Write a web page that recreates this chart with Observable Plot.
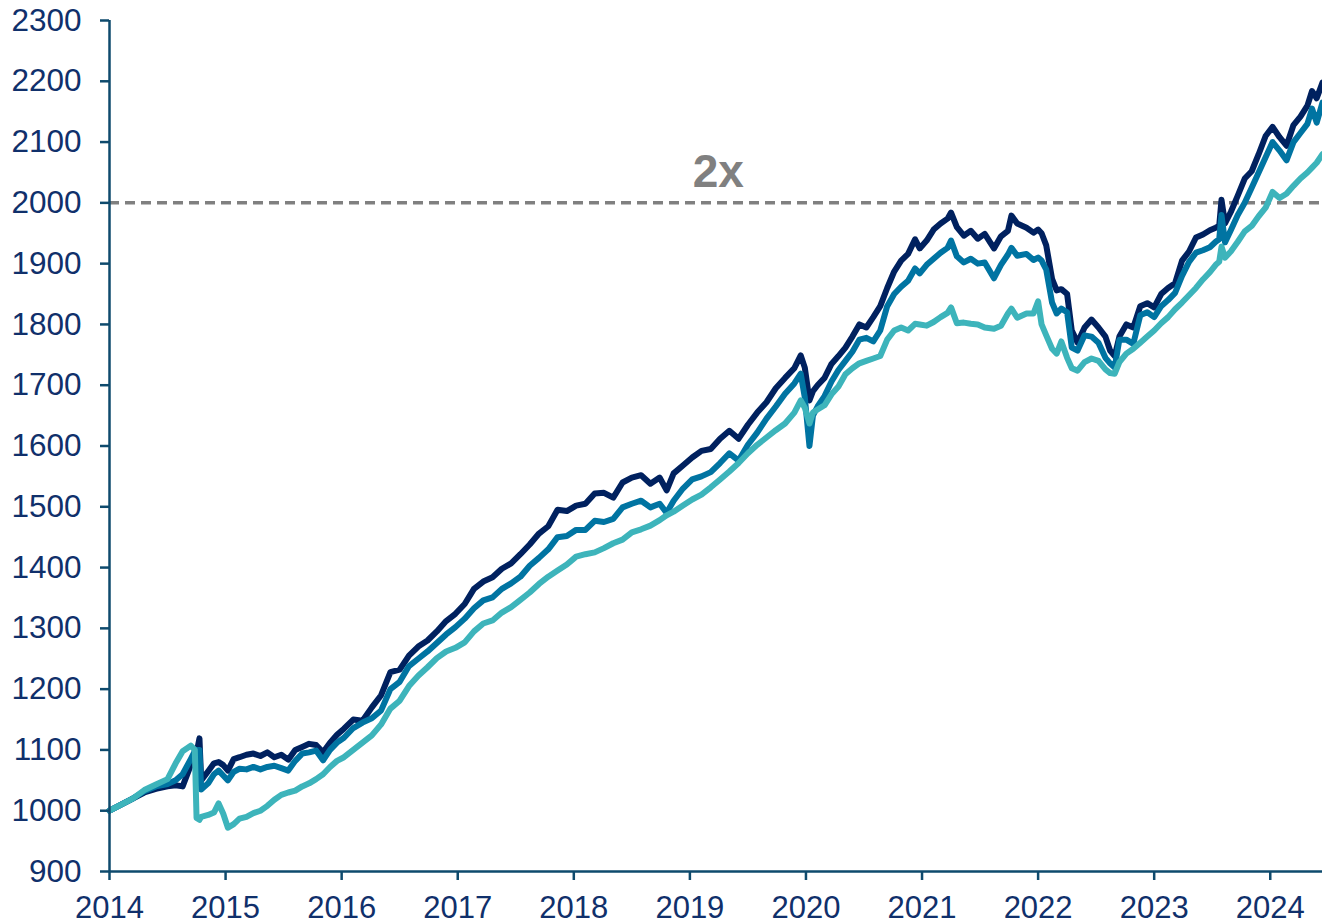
<!DOCTYPE html>
<html><head><meta charset="utf-8">
<script src="https://cdn.jsdelivr.net/npm/d3@7"></script>
<script src="https://cdn.jsdelivr.net/npm/@observablehq/plot@0.6"></script>
<style>html,body{margin:0;padding:0;background:#fff;} svg{display:block}</style>
</head><body><div id="chart"></div>
<script>
const dates = [
  2014.00,2014.10,2014.20,2014.30,2014.40,2014.50,2014.57,2014.63,2014.70,2014.735,
  2014.75,2014.775,2014.79,2014.85,2014.90,2014.94,2014.98,2015.02,2015.07,2015.12,
  2015.18,2015.24,2015.30,2015.36,2015.42,2015.48,2015.54,2015.60,2015.66,2015.72,
  2015.78,2015.84,2015.90,2015.96,2016.02,
  2016.10,2016.18,2016.26,2016.34,2016.42,2016.50,2016.58,2016.66,2016.74,2016.82,
  2016.90,2016.98,2017.06,2017.14,2017.22,2017.30,2017.38,2017.46,2017.54,2017.62,
  2017.70,2017.78,2017.86,2017.94,2018.02,
  2018.10,2018.18,2018.26,2018.34,2018.42,2018.50,2018.58,2018.66,2018.74,2018.80,
  2018.86,2018.94,2019.02,2019.10,2019.18,2019.26,2019.34,2019.42,2019.50,2019.58,
  2019.66,2019.74,2019.82,2019.90,2019.955,2019.99,2020.03,2020.06,
  2020.10,2020.16,2020.22,2020.28,2020.34,2020.40,2020.46,2020.52,2020.58,2020.64,
  2020.70,2020.76,2020.82,2020.88,2020.94,2020.98,2021.04,2021.10,2021.16,2021.22,
  2021.25,2021.30,2021.36,2021.42,2021.48,2021.54,2021.62,2021.68,2021.74,2021.77,
  2021.82,2021.90,2021.96,2022.00,
  2022.03,2022.07,2022.12,2022.16,2022.20,2022.25,2022.29,2022.34,2022.40,2022.46,
  2022.52,2022.58,2022.62,2022.66,2022.70,2022.76,2022.82,2022.88,2022.94,2023.00,
  2023.06,2023.12,2023.18,2023.24,2023.30,2023.36,2023.42,2023.48,2023.53,2023.56,
  2023.58,2023.61,2023.66,2023.72,2023.78,2023.84,2023.90,2023.96,2024.02,2024.08,
  2024.14,2024.20,2024.26,2024.32,2024.36,2024.40,2024.45
];
const navy = [
  1000,1010,1020,1030,1036,1040,1042,1040,1075,1090,
  1095,1119,1050,1065,1078,1080,1075,1066,1085,1088,
  1092,1094,1090,1096,1088,1092,1084,1100,1105,1110,
  1108,1096,1112,1125,1135,
  1150,1148,1170,1190,1228,1232,1255,1270,1280,1295,
  1312,1324,1340,1365,1377,1384,1398,1407,1422,1438,
  1456,1468,1495,1493,1502,
  1505,1522,1523,1515,1540,1548,1552,1538,1548,1527,
  1555,1568,1581,1592,1595,1612,1625,1612,1635,1655,
  1672,1695,1712,1728,1749,1729,1675,1690,
  1700,1712,1735,1748,1762,1780,1800,1795,1812,1830,
  1860,1887,1905,1916,1940,1925,1938,1956,1966,1974,
  1984,1960,1946,1954,1941,1949,1925,1945,1954,1979,
  1966,1959,1951,1956,
  1950,1930,1875,1856,1858,1850,1790,1770,1795,1808,
  1795,1780,1757,1748,1780,1800,1795,1830,1835,1828,
  1850,1860,1868,1905,1920,1943,1948,1955,1959,1962,
  2005,1966,1985,2012,2040,2052,2080,2110,2125,2108,
  2094,2128,2142,2160,2184,2172,2198
];
const medium = [
  1000,1010,1020,1032,1040,1044,1050,1060,1085,1098,
  1100,1100,1035,1045,1060,1066,1058,1050,1064,1069,
  1068,1072,1068,1072,1074,1070,1066,1082,1094,1096,
  1099,1083,1100,1112,1120,
  1136,1145,1152,1165,1200,1212,1238,1250,1262,1276,
  1290,1302,1316,1333,1346,1351,1365,1374,1385,1403,
  1416,1430,1450,1452,1462,
  1462,1477,1475,1480,1499,1505,1510,1499,1505,1490,
  1510,1530,1545,1550,1557,1572,1588,1576,1602,1622,
  1645,1665,1686,1703,1719,1680,1600,1650,
  1665,1682,1706,1725,1740,1755,1775,1778,1772,1790,
  1830,1850,1862,1872,1892,1884,1898,1908,1918,1926,
  1938,1912,1902,1908,1900,1902,1876,1898,1915,1926,
  1913,1916,1906,1910,
  1905,1890,1836,1818,1826,1820,1762,1757,1782,1780,
  1770,1745,1736,1729,1775,1775,1768,1815,1820,1812,
  1830,1840,1852,1880,1903,1918,1922,1927,1936,1940,
  1980,1935,1955,1980,2000,2025,2050,2075,2100,2086,
  2070,2100,2115,2130,2155,2132,2165
];
const teal = [
  1000,1010,1020,1034,1043,1052,1078,1098,1107,1100,
  988,985,990,993,997,1012,995,972,978,987,
  990,996,1000,1008,1018,1026,1030,1033,1040,1045,
  1052,1060,1072,1082,1088,
  1100,1112,1124,1142,1168,1181,1205,1222,1236,1251,
  1262,1268,1277,1295,1308,1313,1326,1335,1347,1359,
  1373,1385,1395,1405,1418,
  1422,1425,1432,1440,1446,1458,1463,1469,1478,1486,
  1492,1502,1512,1520,1532,1545,1558,1572,1588,1602,
  1614,1626,1637,1655,1675,1663,1637,1655,
  1660,1667,1685,1698,1718,1728,1736,1740,1744,1748,
  1775,1790,1795,1790,1801,1800,1798,1804,1812,1819,
  1828,1802,1803,1801,1800,1795,1793,1798,1818,1826,
  1811,1818,1818,1838,
  1800,1782,1760,1752,1772,1745,1728,1724,1738,1744,
  1740,1726,1720,1719,1738,1752,1760,1770,1780,1790,
  1802,1812,1825,1836,1848,1860,1874,1886,1898,1903,
  1928,1910,1920,1936,1953,1962,1978,1992,2018,2008,
  2015,2028,2040,2050,2058,2066,2080
];
const yTicks = [900,1000,1100,1200,1300,1400,1500,1600,1700,1800,1900,2000,2100,2200,2300];
const xTicks = [2014,2015,2016,2017,2018,2019,2020,2021,2022,2023,2024];
const seriesNames = ["navy","medium","teal"];
const seriesColors = ["#00215f","#0074a2","#3db4bb"];
const refLevel = [2000];
const annotation = [{t: 2019.245, v: 2051, label: "2x"}];

const rows = [];
[navy, medium, teal].forEach((vals, i) => vals.forEach((v, j) => rows.push({series: seriesNames[i], t: dates[j], v})));

const axisColor = "#0e4a6d";
const labelColor = "#10306b";

const chart = Plot.plot({
  width: 1322, height: 924,
  marginLeft: 109, marginRight: 0, marginTop: 20, marginBottom: 53,
  x: {domain: [2014, 2024.45]},
  y: {domain: [900, 2300]},
  color: {domain: seriesNames, range: seriesColors},
  style: {fontFamily: "'Liberation Sans', Arial, sans-serif", background: "#fff"},
  marks: [
    Plot.ruleY(refLevel, {stroke: "#808080", strokeWidth: 3.5, strokeDasharray: "10,6"}),
    Plot.line(rows, {x: "t", y: "v", z: "series", stroke: "series", strokeWidth: 6, strokeLinejoin: "round", strokeLinecap: "round"}),
    Plot.text(annotation, {x: "t", y: "v", text: "label", fontSize: 46, fontWeight: "bold", fill: "#808080"}),
    Plot.axisY({ticks: yTicks, tickFormat: "d", tickSize: 9, tickPadding: 19, stroke: axisColor, strokeWidth: 2.5, fill: labelColor, fontSize: 31.5, label: null}),
    Plot.axisX({ticks: xTicks, tickFormat: "d", tickSize: 9, tickPadding: 15, stroke: axisColor, strokeWidth: 2.5, fill: labelColor, fontSize: 31, label: null}),
    Plot.ruleX([2014], {stroke: axisColor, strokeWidth: 2.5}),
    Plot.ruleY([900], {stroke: axisColor, strokeWidth: 2.5})
  ]
});
document.getElementById("chart").appendChild(chart);
</script>
</body></html>
